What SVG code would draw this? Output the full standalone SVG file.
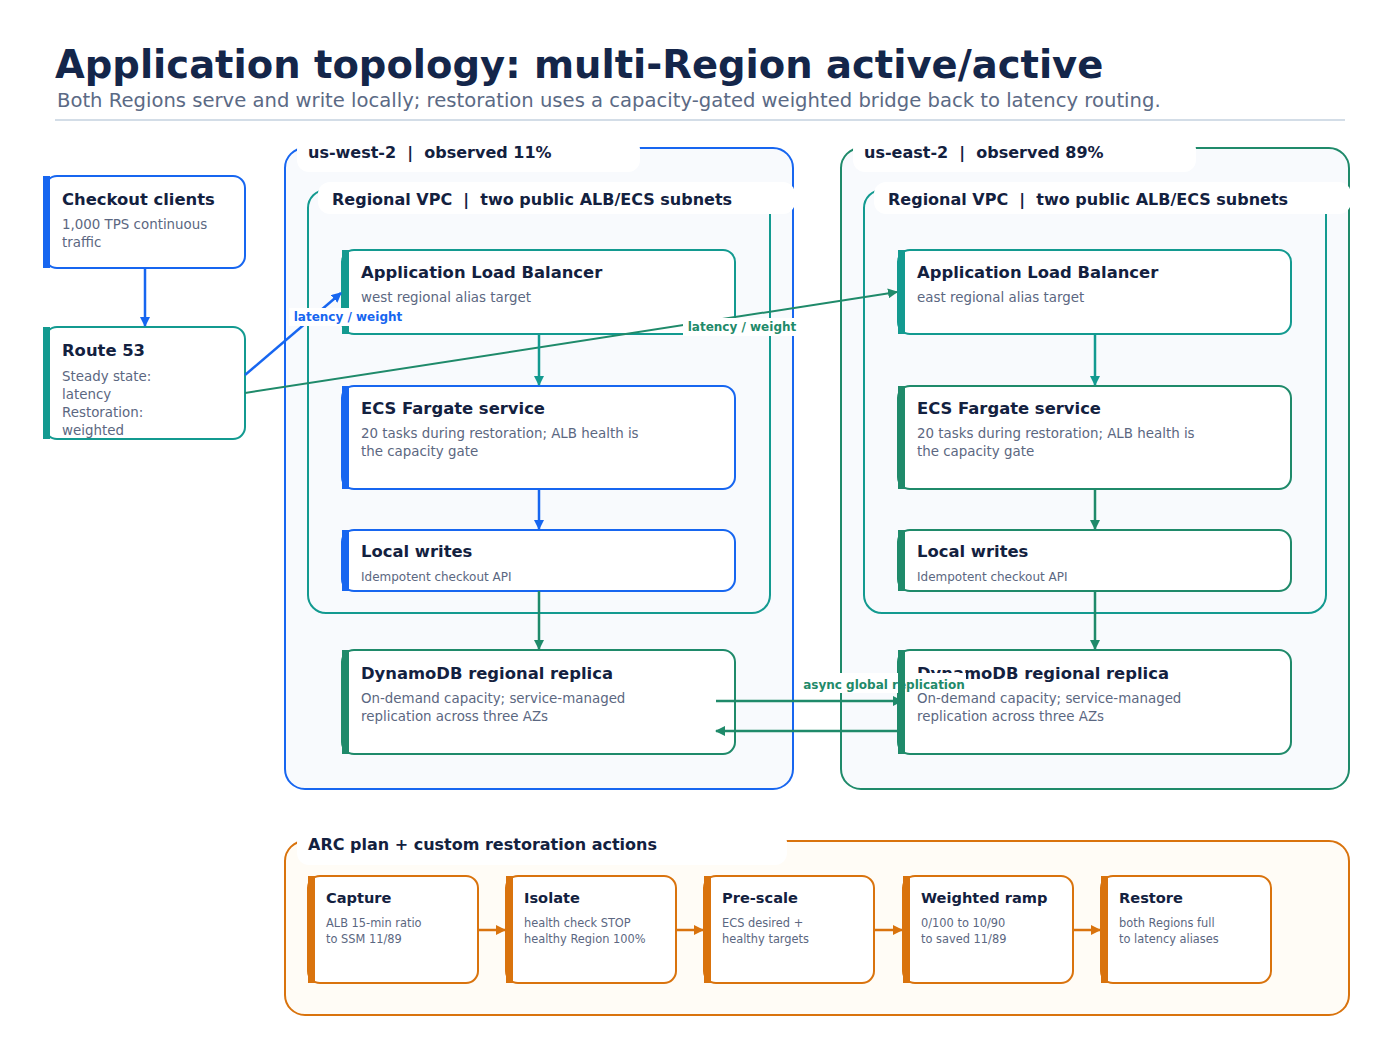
<svg xmlns="http://www.w3.org/2000/svg" width="1400" height="1042" viewBox="0 0 1400 1042">
<style>
text{font-family:"DejaVu Sans",Verdana,sans-serif;white-space:pre}
.t{font-size:16.4px;font-weight:bold;fill:#13213f}
.s{font-size:13.4px;fill:#5b6781}
.xs{font-size:12px;fill:#5b6781}
.st{font-size:14.6px;font-weight:bold;fill:#13213f}
.ss{font-size:11.4px;fill:#5b6781}
.gl{font-size:16px;font-weight:bold;fill:#13213f}
.el{font-size:12px;font-weight:bold}
.n{fill:#fff;stroke-width:2}
</style>
<defs>
<marker id="ab" markerWidth="10" markerHeight="10" refX="9" refY="5" orient="auto" markerUnits="userSpaceOnUse"><path d="M0,0L10,5L0,10z" fill="#1766f0"/></marker>
<marker id="ag" markerWidth="10" markerHeight="10" refX="9" refY="5" orient="auto" markerUnits="userSpaceOnUse"><path d="M0,0L10,5L0,10z" fill="#1f8a6a"/></marker>
<marker id="at" markerWidth="10" markerHeight="10" refX="9" refY="5" orient="auto" markerUnits="userSpaceOnUse"><path d="M0,0L10,5L0,10z" fill="#139a90"/></marker>
<marker id="ao" markerWidth="10" markerHeight="10" refX="9" refY="5" orient="auto" markerUnits="userSpaceOnUse"><path d="M0,0L10,5L0,10z" fill="#d9730d"/></marker>
</defs>
<rect width="1400" height="1042" fill="#fff"/>
<text x="55" y="78" style="font-size:38.5px;font-weight:bold;fill:#14264a">Application topology: multi-Region active/active</text>
<text x="57" y="107" style="font-size:19.6px;fill:#5b6a85">Both Regions serve and write locally; restoration uses a capacity-gated weighted bridge back to latency routing.</text>
<line x1="55" y1="120" x2="1345" y2="120" stroke="#d3dde7" stroke-width="2"/>

<g id="region-west">
<rect x="285" y="148" width="508" height="641" rx="20" fill="#f8fafd" stroke="#1766f0" stroke-width="2"/>
<rect x="297" y="138" width="343" height="34" rx="12" fill="#fff"/>
<text x="308" y="158" class="gl" xml:space="preserve">us-west-2  |  observed 11%</text>
</g>
<g id="vpc-west">
<rect x="308" y="190" width="462" height="423" rx="18" fill="none" stroke="#139a90" stroke-width="2"/>
<rect x="318" y="182" width="477" height="32" rx="12" fill="#fff"/>
<text x="332" y="205" class="gl" xml:space="preserve">Regional VPC  |  two public ALB/ECS subnets</text>
</g>
<g id="region-east">
<rect x="841" y="148" width="508" height="641" rx="20" fill="#f8fafd" stroke="#1f8a6a" stroke-width="2"/>
<rect x="853" y="138" width="343" height="34" rx="12" fill="#fff"/>
<text x="864" y="158" class="gl" xml:space="preserve">us-east-2  |  observed 89%</text>
</g>
<g id="vpc-east">
<rect x="864" y="190" width="462" height="423" rx="18" fill="none" stroke="#139a90" stroke-width="2"/>
<rect x="874" y="182" width="477" height="32" rx="12" fill="#fff"/>
<text x="888" y="205" class="gl" xml:space="preserve">Regional VPC  |  two public ALB/ECS subnets</text>
</g>
<g id="arc">
<rect x="285" y="841" width="1064" height="174" rx="20" fill="#fffcf6" stroke="#d9730d" stroke-width="2"/>
<rect x="297" y="831" width="490" height="34" rx="12" fill="#fff"/>
<text x="308" y="850" class="gl">ARC plan + custom restoration actions</text>
</g>

<g id="clients"><rect x="45" y="176" width="200" height="92" rx="12" class="n" stroke="#1766f0"/><rect x="43" y="176" width="7" height="92" fill="#1766f0"/>
<text x="62" y="205" class="t">Checkout clients</text><text x="62" y="229" class="s">1,000 TPS continuous</text><text x="62" y="247" class="s">traffic</text></g>
<g id="route53"><rect x="45" y="327" width="200" height="112" rx="12" class="n" stroke="#139a90"/><rect x="43" y="327" width="7" height="112" fill="#139a90"/>
<text x="62" y="356" class="t">Route 53</text><text x="62" y="381" class="s">Steady state:</text><text x="62" y="399" class="s">latency</text><text x="62" y="417" class="s">Restoration:</text><text x="62" y="435" class="s">weighted</text></g>

<g id="alb-west"><rect x="342" y="250" width="393" height="84" rx="12" class="n" stroke="#139a90"/><rect x="342" y="250" width="7" height="84" fill="#139a90"/>
<text x="361" y="278" class="t">Application Load Balancer</text><text x="361" y="302" class="s">west regional alias target</text></g>
<g id="ecs-west"><rect x="342" y="386" width="393" height="103" rx="12" class="n" stroke="#1766f0"/><rect x="342" y="386" width="7" height="103" fill="#1766f0"/>
<text x="361" y="414" class="t">ECS Fargate service</text><text x="361" y="438" class="s">20 tasks during restoration; ALB health is</text><text x="361" y="456" class="s">the capacity gate</text></g>
<g id="writes-west"><rect x="342" y="530" width="393" height="61" rx="12" class="n" stroke="#1766f0"/><rect x="342" y="530" width="7" height="61" fill="#1766f0"/>
<text x="361" y="557" class="t">Local writes</text><text x="361" y="581" class="xs">Idempotent checkout API</text></g>
<g id="ddb-west"><rect x="342" y="650" width="393" height="104" rx="12" class="n" stroke="#1f8a6a"/><rect x="342" y="650" width="7" height="104" fill="#1f8a6a"/>
<text x="361" y="679" class="t">DynamoDB regional replica</text><text x="361" y="703" class="s">On-demand capacity; service-managed</text><text x="361" y="721" class="s">replication across three AZs</text></g>

<g id="alb-east"><rect x="898" y="250" width="393" height="84" rx="12" class="n" stroke="#139a90"/><rect x="898" y="250" width="7" height="84" fill="#139a90"/>
<text x="917" y="278" class="t">Application Load Balancer</text><text x="917" y="302" class="s">east regional alias target</text></g>
<g id="ecs-east"><rect x="898" y="386" width="393" height="103" rx="12" class="n" stroke="#1f8a6a"/><rect x="898" y="386" width="7" height="103" fill="#1f8a6a"/>
<text x="917" y="414" class="t">ECS Fargate service</text><text x="917" y="438" class="s">20 tasks during restoration; ALB health is</text><text x="917" y="456" class="s">the capacity gate</text></g>
<g id="writes-east"><rect x="898" y="530" width="393" height="61" rx="12" class="n" stroke="#1f8a6a"/><rect x="898" y="530" width="7" height="61" fill="#1f8a6a"/>
<text x="917" y="557" class="t">Local writes</text><text x="917" y="581" class="xs">Idempotent checkout API</text></g>
<g id="ddb-east"><rect x="898" y="650" width="393" height="104" rx="12" class="n" stroke="#1f8a6a"/><rect x="898" y="650" width="7" height="104" fill="#1f8a6a"/>
<text x="917" y="679" class="t">DynamoDB regional replica</text><text x="917" y="703" class="s">On-demand capacity; service-managed</text><text x="917" y="721" class="s">replication across three AZs</text></g>

<g id="step-capture"><rect x="308" y="876" width="170" height="107" rx="12" class="n" stroke="#d9730d"/><rect x="308" y="876" width="7" height="107" fill="#d9730d"/>
<text x="326" y="903" class="st">Capture</text><text x="326" y="927" class="ss">ALB 15-min ratio</text><text x="326" y="943" class="ss">to SSM 11/89</text></g>
<g id="step-isolate"><rect x="506" y="876" width="170" height="107" rx="12" class="n" stroke="#d9730d"/><rect x="506" y="876" width="7" height="107" fill="#d9730d"/>
<text x="524" y="903" class="st">Isolate</text><text x="524" y="927" class="ss">health check STOP</text><text x="524" y="943" class="ss">healthy Region 100%</text></g>
<g id="step-prescale"><rect x="704" y="876" width="170" height="107" rx="12" class="n" stroke="#d9730d"/><rect x="704" y="876" width="7" height="107" fill="#d9730d"/>
<text x="722" y="903" class="st">Pre-scale</text><text x="722" y="927" class="ss">ECS desired +</text><text x="722" y="943" class="ss">healthy targets</text></g>
<g id="step-ramp"><rect x="903" y="876" width="170" height="107" rx="12" class="n" stroke="#d9730d"/><rect x="903" y="876" width="7" height="107" fill="#d9730d"/>
<text x="921" y="903" class="st">Weighted ramp</text><text x="921" y="927" class="ss">0/100 to 10/90</text><text x="921" y="943" class="ss">to saved 11/89</text></g>
<g id="step-restore"><rect x="1101" y="876" width="170" height="107" rx="12" class="n" stroke="#d9730d"/><rect x="1101" y="876" width="7" height="107" fill="#d9730d"/>
<text x="1119" y="903" class="st">Restore</text><text x="1119" y="927" class="ss">both Regions full</text><text x="1119" y="943" class="ss">to latency aliases</text></g>

<g id="connectors" fill="none" stroke-width="2.5">
<line x1="145" y1="268" x2="145" y2="326" stroke="#1766f0" marker-end="url(#ab)"/>
<line x1="245" y1="375" x2="341" y2="293" stroke="#1766f0" marker-end="url(#ab)"/>
<line x1="245" y1="393" x2="897" y2="292" stroke="#1f8a6a" stroke-width="2" marker-end="url(#ag)"/>
<line x1="539" y1="334" x2="539" y2="385" stroke="#139a90" marker-end="url(#at)"/>
<line x1="539" y1="489" x2="539" y2="529" stroke="#1766f0" marker-end="url(#ab)"/>
<line x1="539" y1="591" x2="539" y2="649" stroke="#1f8a6a" marker-end="url(#ag)"/>
<line x1="1095" y1="334" x2="1095" y2="385" stroke="#139a90" marker-end="url(#at)"/>
<line x1="1095" y1="489" x2="1095" y2="529" stroke="#1f8a6a" marker-end="url(#ag)"/>
<line x1="1095" y1="591" x2="1095" y2="649" stroke="#1f8a6a" marker-end="url(#ag)"/>
<line x1="478" y1="930" x2="505" y2="930" stroke="#d9730d" marker-end="url(#ao)"/>
<line x1="676" y1="930" x2="703" y2="930" stroke="#d9730d" marker-end="url(#ao)"/>
<line x1="874" y1="930" x2="902" y2="930" stroke="#d9730d" marker-end="url(#ao)"/>
<line x1="1073" y1="930" x2="1100" y2="930" stroke="#d9730d" marker-end="url(#ao)"/>
<rect x="289" y="308" width="118" height="18" fill="#fff" stroke="none"/>
<text x="348" y="321" class="el" text-anchor="middle" fill="#1766f0" stroke="none">latency / weight</text>
<rect x="683" y="318" width="118" height="18" fill="#fff" stroke="none"/>
<text x="742" y="331" class="el" text-anchor="middle" fill="#1f8a6a" stroke="none">latency / weight</text>
<rect x="802" y="673" width="164" height="20" fill="#fff" stroke="none"/>
<text x="884" y="689" class="el" text-anchor="middle" fill="#1f8a6a" stroke="none">async global replication</text>
<line x1="716" y1="701" x2="902" y2="701" stroke="#1f8a6a" marker-end="url(#ag)"/>
<line x1="900" y1="731" x2="716" y2="731" stroke="#1f8a6a" marker-end="url(#ag)"/>
<rect x="898" y="650" width="7" height="104" fill="#1f8a6a" stroke="none"/>
</g>
</svg>
